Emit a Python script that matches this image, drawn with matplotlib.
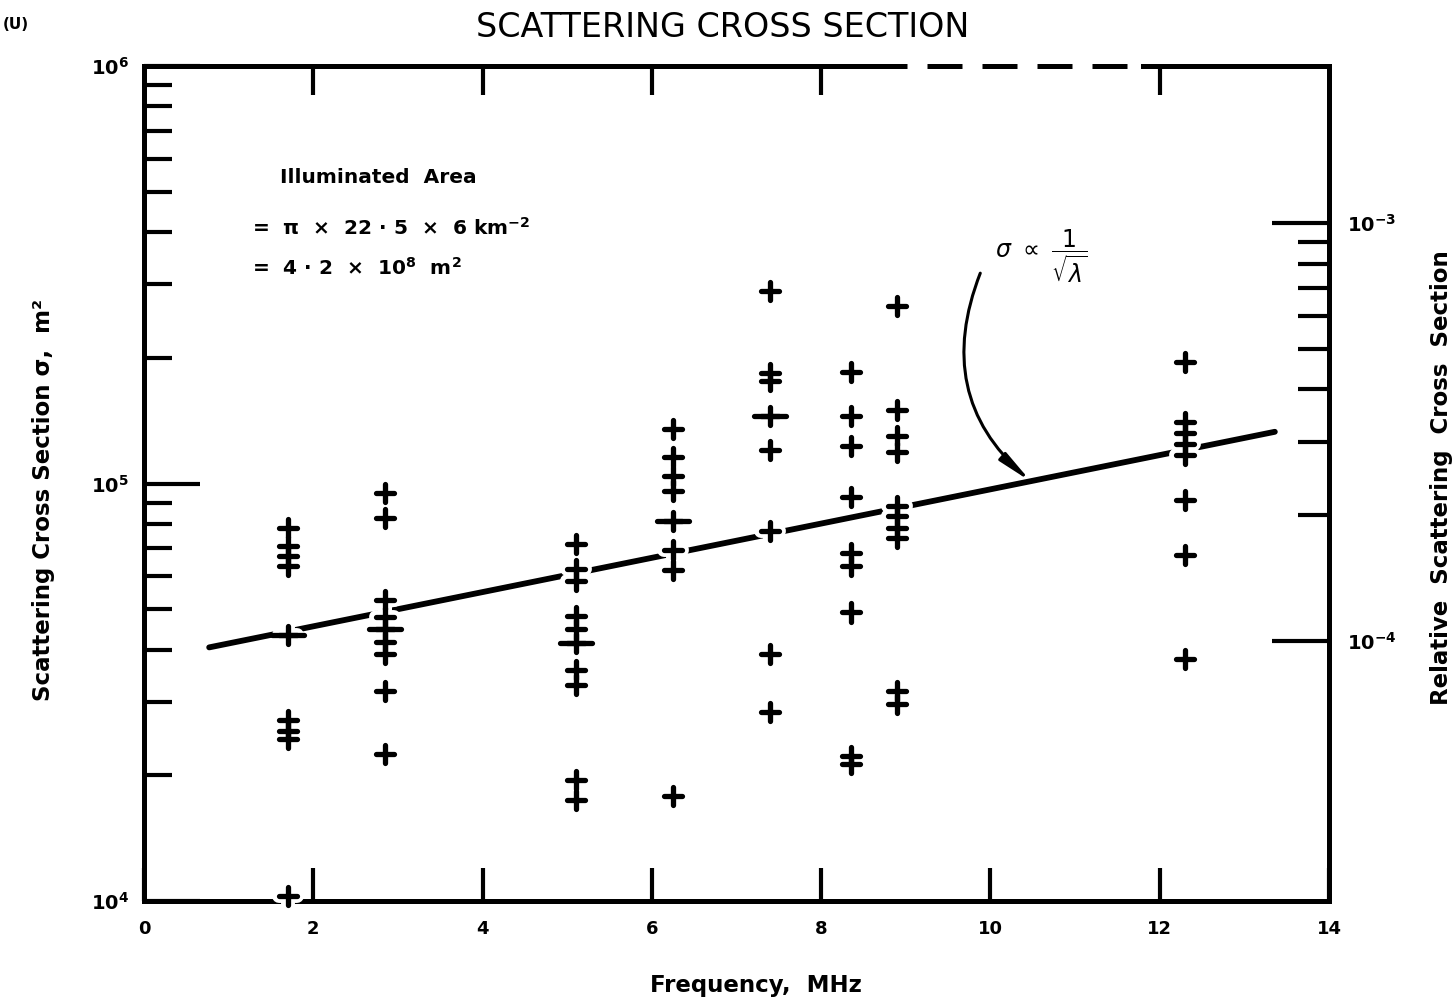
import matplotlib.pyplot as plt
import matplotlib.patheffects as pe
from matplotlib.markers import MarkerStyle
import numpy as np

# Scattering cross section (m^2) per radar frequency (MHz)
freqs = [1.7, 2.85, 5.1, 6.25, 7.4, 8.35, 8.9, 12.3]
sigma_1_7 = [7.83e4, 7.10e4, 6.71e4, 6.35e4, 4.34e4, 2.71e4, 2.56e4, 2.44e4, 1.03e4]
sigma_2_85 = [9.48e4, 8.26e4, 5.27e4, 4.80e4, 4.47e4, 4.18e4, 3.91e4, 3.18e4, 2.25e4]
sigma_5_1 = [7.16e4, 6.24e4, 5.84e4, 4.81e4, 4.47e4, 4.14e4, 3.58e4, 3.30e4, 1.95e4, 1.75e4]
sigma_6_25 = [1.35e5, 1.16e5, 1.04e5, 9.62e4, 8.15e4, 6.94e4, 6.22e4, 1.78e4]
sigma_7_4 = [2.89e5, 1.84e5, 1.76e5, 1.45e5, 1.20e5, 7.69e4, 3.90e4, 2.83e4]
sigma_8_35 = [1.85e5, 1.45e5, 1.23e5, 9.27e4, 6.80e4, 6.33e4, 4.91e4, 2.22e4, 2.13e4]
sigma_8_9 = [2.66e5, 1.50e5, 1.30e5, 1.19e5, 8.84e4, 8.36e4, 7.82e4, 7.40e4, 3.18e4, 2.97e4]
sigma_12_3 = [1.95e5, 1.40e5, 1.32e5, 1.24e5, 1.17e5, 9.12e4, 6.73e4, 3.80e4]
sigma_by_freq = [sigma_1_7, sigma_2_85, sigma_5_1, sigma_6_25,
                 sigma_7_4, sigma_8_35, sigma_8_9, sigma_12_3]

# points marked with a long cross bar
mean_freq = [1.7, 2.85, 5.1, 6.25, 7.4]
mean_sigma = [4.34e4, 4.47e4, 4.14e4, 8.15e4, 1.45e5]

# sigma ~ 1/sqrt(lambda) trend line
trend_freq = [0.77, 13.36]
trend_sigma = [4.05e4, 1.33e5]

area_m2 = 4.2e8  # illuminated area, used for the relative scale

x_ticks = [0, 2, 4, 6, 8, 10, 12, 14]
top_ticks = [2, 4, 6, 8, 12]

freq_pts = np.concatenate([[f] * len(s) for f, s in zip(freqs, sigma_by_freq)])
sigma_pts = np.concatenate(sigma_by_freq)

bold = dict(fontweight='bold', family='DejaVu Sans')

fig = plt.figure(figsize=(14.54, 9.99), dpi=100)
ax = fig.add_axes([144 / 1454, 98 / 999, 1185 / 1454, 835 / 999])
ax.set_xlim(0, 14)
ax.set_yscale('log')
ax.set_ylim(1e4, 1e6)

# trend line, then the crosses with a white halo so the line breaks round them
ax.plot(trend_freq, trend_sigma, color='black', lw=4.2, solid_capstyle='round', zorder=3)
plus = MarkerStyle('+', capstyle='round')
halo = [pe.Stroke(linewidth=10, foreground='white'), pe.Normal()]
ax.plot(freq_pts, sigma_pts, ls='none', marker=plus, ms=13, mew=3.8, color='black',
        path_effects=halo, clip_on=False, zorder=4)
ax.plot(mean_freq, mean_sigma, ls='none', marker=MarkerStyle('_', capstyle='round'),
        ms=23, mew=3.8, color='black', clip_on=False, zorder=5)

# frame: top edge drawn by hand, broken over part of its length
for side in ['left', 'right', 'bottom']:
    ax.spines[side].set_linewidth(3.6)
ax.spines['top'].set_visible(False)
tr = ax.get_xaxis_transform()
ax.plot([0, 8.6], [1, 1], transform=tr, color='black', lw=3.6, clip_on=False,
        solid_capstyle='projecting')
ax.plot([8.6, 11.8], [1, 1], transform=tr, color='black', lw=3.6, clip_on=False,
        dashes=(7, 4))
ax.plot([11.8, 14], [1, 1], transform=tr, color='black', lw=3.6, clip_on=False,
        solid_capstyle='projecting')

# bottom frequency ticks
ax.set_xticks(x_ticks)
ax.set_xticklabels([str(t) for t in x_ticks], fontsize=13, **bold)
ax.tick_params(axis='x', which='major', direction='in', length=24, width=3, pad=14,
               top=False)

# left sigma ticks
ax.set_yticks([1e4, 1e5, 1e6])
ax.set_yticklabels([r'$\mathbf{10^{4}}$', r'$\mathbf{10^{5}}$', r'$\mathbf{10^{6}}$'],
                   fontsize=14)
minor = [m * d for d in (1e4, 1e5) for m in range(2, 10)]
ax.set_yticks(minor, minor=True)
ax.yaxis.set_minor_formatter(plt.NullFormatter())
ax.tick_params(axis='y', which='major', direction='in', length=40, width=3, pad=11,
               right=False)
ax.tick_params(axis='y', which='minor', direction='in', length=20, width=3, right=False)

# relative cross section on the right
axr = ax.twinx()
axr.set_yscale('log')
axr.set_ylim(1e4 / area_m2, 1e6 / area_m2)
axr.set_yticks([1e-4, 1e-3])
axr.set_yticklabels([r'$\mathbf{10^{-4}}$', r'$\mathbf{10^{-3}}$'], fontsize=14)
axr.set_yticks([m * 1e-4 for m in range(2, 10)], minor=True)
axr.yaxis.set_minor_formatter(plt.NullFormatter())
axr.tick_params(axis='y', which='major', direction='in', length=41, width=3, pad=13)
axr.tick_params(axis='y', which='minor', direction='in', length=22, width=3)
for s in axr.spines.values():
    s.set_visible(False)

# top ticks
axt = ax.twiny()
axt.set_xlim(0, 14)
axt.set_xticks(top_ticks)
axt.set_xticklabels([])
axt.tick_params(axis='x', direction='in', length=21, width=3)
for s in axt.spines.values():
    s.set_visible(False)

# axis titles
ax.set_xlabel('Frequency,  MHz', fontsize=16.5, **bold)
ax.xaxis.set_label_coords(0.516, -0.088)
ax.set_ylabel('Scattering Cross Section σ,  m²', fontsize=16.5, **bold)
ax.yaxis.set_label_coords(-0.075, 0.48)
axr.set_ylabel('Relative  Scattering  Cross  Section', fontsize=16.5, **bold)
axr.yaxis.set_label_coords(1.085, 0.507)

fig.text(0.497, 0.972, 'SCATTERING CROSS SECTION', ha='center', va='center',
         fontsize=24, family='DejaVu Sans')
fig.text(0.002, 0.975, '(U)', ha='left', va='center', fontsize=11, **bold)

# illuminated area note
ax.text(0.115, 0.867, 'Illuminated  Area', transform=ax.transAxes, fontsize=14.5,
        va='center', **bold)
ax.text(0.091, 0.806, r'=  π  ×  22 · 5  ×  6 km$^{\mathbf{-2}}$', transform=ax.transAxes,
        fontsize=14.5, va='center', **bold)
ax.text(0.091, 0.758, r'=  4 · 2  ×  10$^{\mathbf{8}}$  m$^{\mathbf{2}}$',
        transform=ax.transAxes, fontsize=14.5, va='center', **bold)

# proportionality label with curved pointer to the trend line
ax.text(10.6, 3.5e5, r'$\sigma\ \propto\ \dfrac{1}{\sqrt{\lambda}}$', fontsize=17,
        ha='center', va='center')
ax.annotate('', xy=(10.48, 1.01e5), xytext=(9.88, 3.19e5),
            arrowprops=dict(arrowstyle='-|>,head_length=2.0,head_width=0.3',
                            connectionstyle='arc3,rad=0.35', lw=2.2, color='black',
                            shrinkA=0, shrinkB=0))

fig.savefig('out.png', dpi=100)
